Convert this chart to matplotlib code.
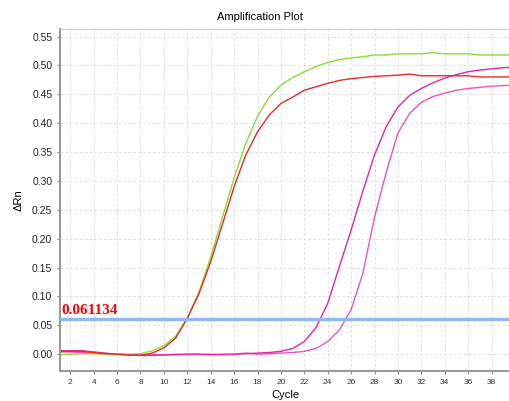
import numpy as np
import matplotlib.pyplot as plt

# Amplification data (delta Rn per cycle)
cycles = list(range(1, 41))

green = [-0.001, 0.000, 0.001, 0.001, 0.000, 0.000, 0.000, 0.001, 0.006, 0.015,
         0.031, 0.063, 0.108, 0.168, 0.237, 0.305, 0.365, 0.412, 0.445, 0.466,
         0.479, 0.489, 0.498, 0.505, 0.510, 0.513, 0.515, 0.518, 0.518, 0.520,
         0.520, 0.520, 0.522, 0.520, 0.520, 0.520, 0.518, 0.518, 0.518, 0.518]

red = [0.005, 0.005, 0.005, 0.003, 0.001, 0.000, -0.001, -0.002, 0.002, 0.011,
       0.028, 0.062, 0.105, 0.160, 0.225, 0.290, 0.345, 0.385, 0.414, 0.434,
       0.445, 0.457, 0.463, 0.469, 0.474, 0.477, 0.479, 0.481, 0.482, 0.483,
       0.485, 0.482, 0.482, 0.482, 0.482, 0.482, 0.480, 0.480, 0.480, 0.480]

magenta1 = [0.006, 0.006, 0.006, 0.004, 0.002, 0.000, -0.001, -0.002, -0.002, -0.001,
            -0.001, 0.000, 0.000, -0.001, 0.000, 0.000, 0.001, 0.002, 0.003, 0.005,
            0.010, 0.022, 0.046, 0.088, 0.152, 0.215, 0.282, 0.345, 0.394, 0.428,
            0.448, 0.460, 0.470, 0.478, 0.484, 0.489, 0.492, 0.494, 0.496, 0.497]

magenta2 = [0.004, 0.004, 0.003, 0.002, 0.001, 0.000, -0.001, -0.001, -0.001, -0.001,
            0.000, 0.000, 0.000, 0.000, -0.001, 0.000, 0.002, 0.000, 0.001, 0.002,
            0.003, 0.005, 0.010, 0.022, 0.042, 0.077, 0.140, 0.237, 0.315, 0.383,
            0.417, 0.436, 0.446, 0.452, 0.457, 0.460, 0.462, 0.464, 0.465, 0.466]

threshold = 0.061134
x_ticks = list(range(2, 40, 2))
y_ticks = [0.00, 0.05, 0.10, 0.15, 0.20, 0.25, 0.30, 0.35, 0.40, 0.45, 0.50, 0.55]

plt.rcParams['font.family'] = ['Liberation Sans', 'DejaVu Sans']

fig = plt.figure(figsize=(5.10, 4.01), dpi=100)
ax = fig.add_axes([60 / 510, 30 / 401, 450 / 510, 342 / 401])

ax.plot(cycles, magenta2, color='#F052BE', lw=1.0)
ax.plot(cycles, magenta1, color='#EA22A6', lw=1.0)
ax.plot(cycles, green, color='#86E034', lw=1.0)
ax.plot(cycles, red, color='#EE2626', lw=1.0)

ax.axhline(threshold, color='#8DB9F2', lw=2.4, zorder=5)
ax.text(1.2, threshold + 0.003, f'{threshold:.6f}', color='red', fontsize=11,
        fontweight='bold', family='Liberation Serif', va='bottom', ha='left')

ax.set_xlim(1.12, 39.58)
ax.set_ylim(-0.029, 0.563)
ax.set_xticks(x_ticks)
ax.set_yticks(y_ticks)
ax.set_yticklabels([f'{v:.2f}' for v in y_ticks])
ax.tick_params(axis='x', labelsize=6, length=2, color='#888888', labelcolor='#333333')
ax.tick_params(axis='y', labelsize=7.5, length=2, color='#888888', labelcolor='#222222')

ax.grid(True, color='#DDDDDD', linestyle=(0, (2.5, 2.5)), lw=0.7)
ax.set_axisbelow(True)

for side in ['left', 'bottom']:
    ax.spines[side].set_color('#999999')
    ax.spines[side].set_linewidth(1.5)
ax.spines['top'].set_color('#CCCCCC')
ax.spines['right'].set_visible(False)

ax.set_xlabel('Cycle', fontsize=8, labelpad=3)
ax.set_ylabel('ΔRn', fontsize=8, labelpad=6)
fig.text(0.51, 1 - 17 / 401, 'Amplification Plot', ha='center', va='center', fontsize=8)

fig.savefig('out.png', dpi=100)
